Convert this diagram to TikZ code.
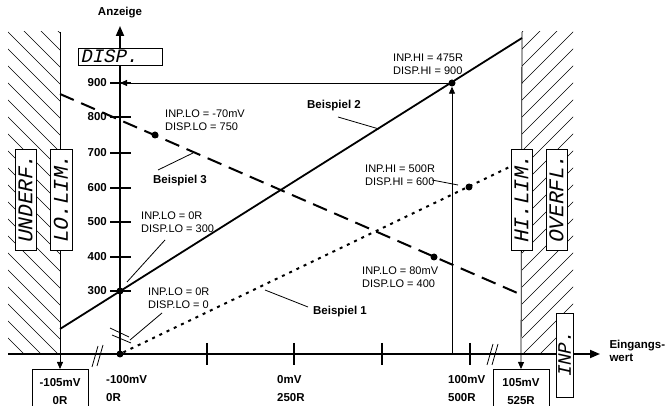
\documentclass[tikz,border=0pt]{standalone}
\usepackage{fontspec}
\setmainfont{Liberation Sans}
\newfontfamily\lcdfont{Liberation Mono}[FakeSlant=0.22]
\usetikzlibrary{positioning,arrows.meta}

\tikzset{
  axis/.style={line width=1.8pt,-{Triangle[length=10pt,width=8pt]}},
  ->/.style={line width=0.8pt,-{Triangle[length=7pt,width=6pt]}},
  thinline/.style={line width=0.8pt},
  hatch/.style={line width=0.7pt},
  lcd/.style={draw,fill=white,line width=0.8pt,inner sep=1pt,font=\lcdfont\fontsize{21}{21}\selectfont},
  val/.style={font=\bfseries\fontsize{11.5}{18}\selectfont,align=left},
  note/.style={font=\fontsize{11}{13}\selectfont,align=left,inner sep=0pt,anchor=west},
  bsp/.style={font=\bfseries\fontsize{11.5}{13}\selectfont},
  dot/.style={circle,fill,inner sep=0pt,minimum size=7pt},
  ex1/.style={line width=2pt,dash pattern=on 3pt off 5pt},
  ex2/.style={line width=1.8pt},
  ex3/.style={line width=2pt,dash pattern=on 15pt off 8pt},
}

\begin{document}
\begin{tikzpicture}[x=1pt,y=-1pt]
    \useasboundingbox (0,0) rectangle (670,406);
    % hatched ranges
    \begin{scope}
      \clip (8,32) rectangle (60,354);
      \foreach \b in {-44,-27,...,350}
        \draw[hatch] (0,\b) -- (80,80+\b);
    \end{scope}
    \begin{scope}
      \clip (522,32) rectangle (573,354);
      \foreach \b in {554,571,...,944}
        \draw[hatch] (500,\b-500) -- (600,\b-600);
    \end{scope}
    % axes
    \coordinate (xs) at (8,354);
    \coordinate (xe) at (600,354);
    \coordinate (o) at (120,354);
    \coordinate (ye) at (120,26);
    \draw[axis] (xs) -- (xe);
    \draw[axis] (o) -- (ye);
    \node[font=\bfseries\fontsize{11.5}{13}\selectfont] (ylab) at (120,13) {Anzeige};
    \node[font=\bfseries\fontsize{11.5}{13}\selectfont,align=left,anchor=west] (xlab) at (606,351) {Eingangs-\\wert};
    % ticks
    \foreach \v/\y in {900/83,800/117,700/153,600/188,500/222,400/257,300/291} {
      \draw[line width=1.2pt] (110,\y) -- (131,\y);
      \node[bsp,anchor=east,inner sep=2pt] at (109,\y) {\v};
    }
    \foreach \x in {207,294,382,470}
      \draw[line width=1.2pt] (\x,343) -- (\x,365);
    % axis breaks
    \draw[thinline] (92,367) -- (98,346) (97,366) -- (103,345);
    \draw[thinline] (487,365) -- (493,344) (492,365) -- (498,344);
    \draw[thinline] (110,328) -- (129,337) (112,335) -- (131,343);
    % value boxes
    \node[draw,line width=0.8pt,minimum width=56pt,minimum height=45pt,anchor=north,val,align=center] (lo105) at (60,369) {-105mV\\0R};
    \node[draw,line width=0.8pt,minimum width=56pt,minimum height=45pt,anchor=north,val,align=center] (hi105) at (521,369) {105mV\\525R};
    \node[val,anchor=west,inner sep=0pt] (lo100) at (106,389) {-100mV\\0R};
    \node[val,anchor=west,inner sep=0pt] (mid0) at (277,389) {0mV\\250R};
    \node[val,anchor=west,inner sep=0pt] (hi100) at (448,389) {100mV\\500R};
    % range limits
    \coordinate (lt) at (60,32);
    \coordinate (rt) at (522,32);
    \draw[->] (lt) -- (lo105.north);
    \draw[->] (rt) -- (hi105.north);
    % Beispiel 1
    \node[dot] (b1hi) at (469,187) {};
    \node[dot] (b1lo) at (120,354) {};
    \coordinate (b1e) at (522,161);
    \draw[ex1] (b1lo) -- (b1e);
    % Beispiel 2
    \node[dot] (b2hi) at (452,83) {};
    \node[dot] (b2lo) at (120,291) {};
    \coordinate (b2s) at (60,329);
    \coordinate (b2e) at (522,38);
    \draw[ex2] (b2s) -- (b2e);
    \coordinate (x475) at (452,354);
    \coordinate (y900) at (120,83);
    \draw[->] (x475) -- (b2hi);
    \draw[->] (b2hi) -- (y900);
    % Beispiel 3
    \node[dot] (b3lo) at (155,135) {};
    \node[dot] (b3hi) at (434,257) {};
    \coordinate (b3s) at (60,94);
    \coordinate (b3e) at (522,295);
    \draw[ex3] (b3s) -- (b3e);
    % labels
    \node[note] (n300) at (141,222) {INP.LO = 0R\\DISP.LO = 300};
    \node[note] (n0) at (148,298) {INP.LO = 0R\\DISP.LO = 0};
    \node[note] (n750) at (165,120) {INP.LO = -70mV\\DISP.LO = 750};
    \node[note] (n900) at (393,64) {INP.HI = 475R\\DISP.HI = 900};
    \node[note] (n600) at (365,175) {INP.HI = 500R\\DISP.HI = 600};
    \node[note] (n400) at (362,277) {INP.LO = 80mV\\DISP.LO = 400};
    \node[bsp] (bsp1) at (340,312) {Beispiel 1};
    \node[bsp] (bsp2) at (334,106) {Beispiel 2};
    \node[bsp] (bsp3) at (180,181) {Beispiel 3};
    % leaders
    \coordinate (l300) at (127,282);
    \coordinate (l0) at (130,340);
    \coordinate (l1) at (265,290);
    \coordinate (l2) at (379,129);
    \coordinate (l3) at (193,153);
    \coordinate (l600) at (458,185);
    \draw[thinline] (165,240) -- (l300);
    \draw[thinline] (162,313) -- (l0);
    \draw[thinline] (308,307) -- (l1);
    \draw[thinline] (338,117) -- (l2);
    \draw[thinline] (158,170) -- (l3);
    \draw[thinline] (432,180) -- (l600);
    % display texts
    \node[lcd,font=\lcdfont\fontsize{19}{19}\selectfont,text width=80pt,align=left,minimum height=17pt,inner sep=2pt,anchor=west] (disp) at (78,56.5) {DISP.};
    \node[lcd,rotate=90,minimum width=101pt,minimum height=21pt] (underf) at (25.5,199.5) {UNDERF.};
    \node[lcd,rotate=90,minimum width=101pt,minimum height=22pt] (lolim) at (61,199.5) {LO.LIM.};
    \node[lcd,rotate=90,minimum width=101pt,minimum height=21pt] (hilim) at (521.5,199.5) {HI.LIM.};
    \node[lcd,rotate=90,minimum width=101pt,minimum height=21pt] (overfl) at (556.5,199.5) {OVERFL.};
    \node[lcd,rotate=90,font=\lcdfont\fontsize{19}{19}\selectfont,minimum width=84pt,minimum height=17pt] (inp) at (564.5,355) {INP.};
\end{tikzpicture}
\end{document}
